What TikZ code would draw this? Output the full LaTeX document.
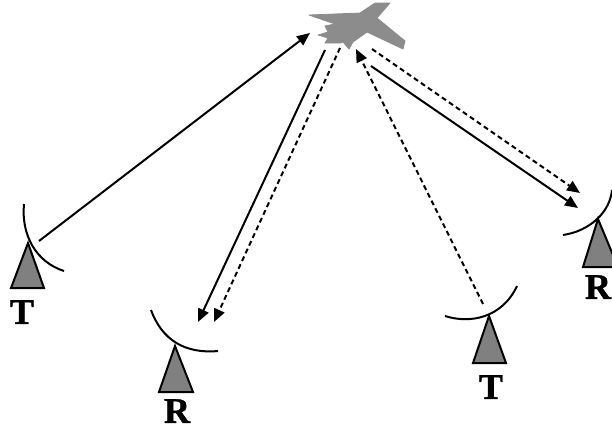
\documentclass[tikz,border=0pt]{standalone}
\usepackage{fontspec}
\setmainfont[BoldFeatures={FakeBold=1.2}]{Liberation Serif}
\usetikzlibrary{arrows.meta}
\definecolor{dishgray}{RGB}{128,128,128}
\definecolor{planegray}{RGB}{140,140,140}
\tikzset{
  dish/.style={line width=2pt,black},
  mast/.style={draw=black,line width=2pt,fill=dishgray,line join=miter},
  plane/.style={fill=planegray,draw=planegray,line width=0.8pt,line join=round},
  solidlink/.style={line width=2pt,-{Triangle[length=13pt,width=11pt]}},
  dashlink/.style={line width=2pt,dash pattern=on 5pt off 3.5pt,-{Triangle[length=13pt,width=11pt]}},
  lbl/.style={font=\fontsize{36}{36}\selectfont\bfseries,inner sep=0pt,text=black}
}
\begin{document}
\begin{tikzpicture}[x=1pt,y=-1pt]
\useasboundingbox (0,0) rectangle (612,432);
% plane
\draw[plane] (309,15) -- (360,13) -- (375,3) -- (390,3) -- (377,18) -- (405,41) -- (403,49)
  -- (367,32) -- (353,42) -- (349,49) -- (343,42) -- (340,43) -- (325,43) -- (328,38)
  -- (318,35) -- (328,32) -- (325,26) -- (335,24) -- cycle;
% antennas
\draw[mast] (28,243) -- (11,288) -- (44,288) -- cycle;
\draw[dish] (24,204) .. controls (21,235) and (36,262) .. (64,271);
\node[lbl] (t1) at (22,312) {T};
\draw[mast] (175,346) -- (159,392) -- (193,392) -- cycle;
\draw[dish] (151,310) .. controls (162,340) and (185,354) .. (218,351);
\node[lbl] (r1) at (177,411) {R};
\draw[mast] (489,316) -- (473,363) -- (506,363) -- cycle;
\draw[dish] (445,316) .. controls (470,324) and (502,318) .. (517,286);
\node[lbl] (t2) at (491,387) {T};
\draw[mast] (598,219) -- (583,267) -- (618,267) -- cycle;
\draw[dish] (563,235) .. controls (590,231) and (610,212) .. (612,190);
\node[lbl] (r2) at (598,287) {R};
% connector ends
\coordinate (a1) at (39,241);   \coordinate (a2) at (310,33);
\coordinate (b1) at (325,50);   \coordinate (b2) at (198,322);
\coordinate (c1) at (340,48);   \coordinate (c2) at (214,322);
\coordinate (d1) at (483,304);  \coordinate (d2) at (356,49);
\coordinate (e1) at (371,66);   \coordinate (e2) at (578,208);
\coordinate (f1) at (372,49);   \coordinate (f2) at (580,193);
\draw[solidlink] (a1) -- (a2);
\draw[solidlink] (b1) -- (b2);
\draw[dashlink] (c1) -- (c2);
\draw[dashlink] (d1) -- (d2);
\draw[solidlink] (e1) -- (e2);
\draw[dashlink] (f1) -- (f2);
\end{tikzpicture}
\end{document}
